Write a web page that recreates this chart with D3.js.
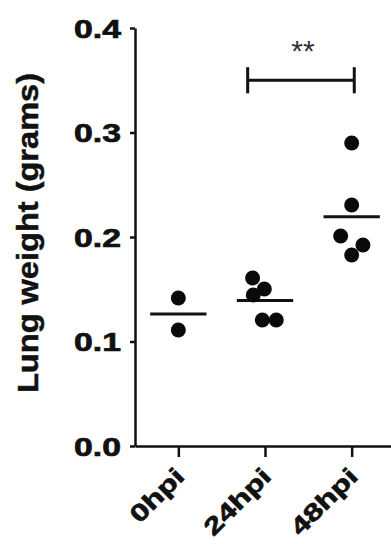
<!DOCTYPE html>
<html>
<head>
<meta charset="utf-8">
<script src="https://cdn.jsdelivr.net/npm/d3@7"></script>
<style>
  html, body { margin: 0; padding: 0; background: #fff; }
  svg { display: block; }
</style>
</head>
<body>
<div id="chart"></div>
<script>
// ---- data ----
const categories = ["0hpi", "24hpi", "48hpi"];
const values0 = [0.1416, 0.111];
const values24 = [0.1608, 0.1502, 0.1445, 0.1206, 0.1206];
const values48 = [0.290, 0.2306, 0.201, 0.1923, 0.1828];
// horizontal scatter of each point, in fractions of a category step
const jitter0 = [0, 0];
const jitter24 = [-0.143, -0.008, -0.135, -0.031, 0.130];
const jitter48 = [0, 0, -0.127, 0.130, 0];
const yTicks = [0.0, 0.1, 0.2, 0.3, 0.4];
const yLabel = "Lung weight (grams)";
const sigFrom = "24hpi", sigTo = "48hpi", sigLabel = "**", sigValue = 0.350;

const groups = [
  { cat: categories[0], vals: values0, jit: jitter0 },
  { cat: categories[1], vals: values24, jit: jitter24 },
  { cat: categories[2], vals: values48, jit: jitter48 }
];

const W = 391, H = 544;
const svg = d3.select("#chart").append("svg").attr("width", W).attr("height", H);

const x = d3.scalePoint().domain(categories).range([135, 395]).padding(0.5);
const y = d3.scaleLinear().domain([0, 0.4]).range([446, 28]);
const step = x.step();
const font = "'Liberation Sans', Arial, Helvetica, sans-serif";

// y axis
const gy = svg.append("g").attr("transform", `translate(${x.range()[0]},0)`)
  .call(d3.axisLeft(y).tickValues(yTicks).tickFormat(d3.format(".1f")).tickSize(5).tickSizeOuter(0));
gy.select(".domain").attr("stroke", "#111").attr("stroke-width", 2.5);
gy.selectAll(".tick line").attr("stroke", "#111").attr("stroke-width", 2.5);
gy.selectAll(".tick text")
  .attr("x", 0).attr("dy", "0.36em")
  .attr("transform", "translate(-14,0) scale(1.35,1)")
  .attr("text-anchor", "end")
  .attr("stroke", "#111").attr("stroke-width", 0.7)
  .style("font-family", font).style("font-size", "25px").style("font-weight", "bold").attr("fill", "#111");

// x axis
const gx = svg.append("g").attr("transform", `translate(0,${y(0)})`)
  .call(d3.axisBottom(x).tickSize(11).tickSizeOuter(0));
gx.select(".domain").attr("stroke", "#111").attr("stroke-width", 2.5);
gx.selectAll(".tick line").attr("stroke", "#111").attr("stroke-width", 2.5);
gx.selectAll(".tick text")
  .attr("x", 0).attr("y", 0).attr("dy", 0)
  .attr("transform", "translate(7,32) rotate(-45) scale(1.33,1)")
  .attr("text-anchor", "end")
  .attr("stroke", "#111").attr("stroke-width", 0.7)
  .style("font-family", font).style("font-size", "24px").style("font-weight", "bold").attr("fill", "#111");

// y label
svg.append("text")
  .attr("transform", "translate(38,233) rotate(-90) scale(1.085,1)")
  .attr("text-anchor", "middle")
  .attr("stroke", "#111").attr("stroke-width", 0.5)
  .style("font-family", font).style("font-size", "30px").style("font-weight", "bold")
  .attr("fill", "#111")
  .text(yLabel);

// mean lines
svg.append("g").selectAll("line").data(groups).join("line")
  .attr("x1", d => x(d.cat) - step * 0.325)
  .attr("x2", d => x(d.cat) + step * 0.325)
  .attr("y1", d => y(d3.mean(d.vals)))
  .attr("y2", d => y(d3.mean(d.vals)))
  .attr("stroke", "#111").attr("stroke-width", 3);

// points
const pts = groups.flatMap(g => g.vals.map((v, i) => ({ cat: g.cat, v, j: g.jit[i] })));
svg.append("g").selectAll("circle").data(pts).join("circle")
  .attr("cx", d => x(d.cat) + d.j * step)
  .attr("cy", d => y(d.v))
  .attr("r", 7.5)
  .attr("fill", "#0a0a0a");

// significance bracket
const bx1 = x(sigFrom) - step * 0.2, bx2 = x(sigTo) + step * 0.03;
const by = y(sigValue), cap = y(sigValue - 0.0125) - by;
const gs = svg.append("g").attr("stroke", "#111").attr("stroke-width", 3);
gs.append("line").attr("x1", bx1).attr("x2", bx2).attr("y1", by).attr("y2", by);
gs.append("line").attr("x1", bx1).attr("x2", bx1).attr("y1", by - cap).attr("y2", by + cap);
gs.append("line").attr("x1", bx2).attr("x2", bx2).attr("y1", by - cap).attr("y2", by + cap);
svg.append("text")
  .attr("x", (bx1 + bx2) / 2 + 2).attr("y", by - 19)
  .attr("text-anchor", "middle")
  .style("font-family", font).style("font-size", "30px")
  .attr("fill", "#333")
  .text(sigLabel);
</script>
</body>
</html>
